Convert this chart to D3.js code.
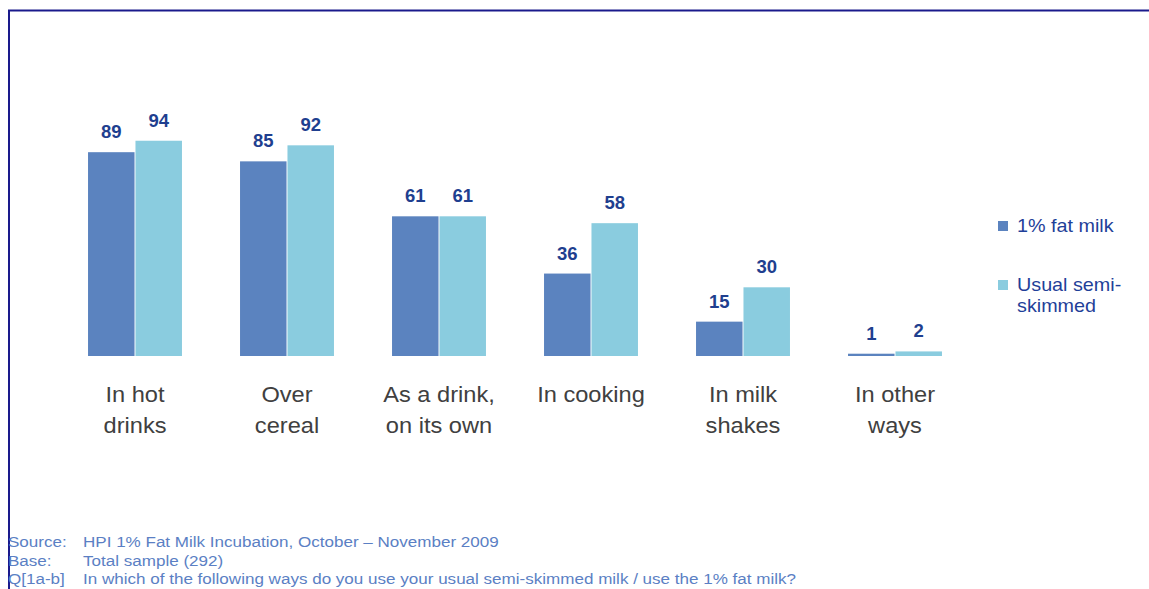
<!DOCTYPE html>
<html><head><meta charset="utf-8">
<script src="https://cdn.jsdelivr.net/npm/d3@7"></script>
<style>body{margin:0;background:#fff;} svg{display:block;font-family:"Liberation Sans",Arial,sans-serif;}</style>
</head><body>
<svg id="c" width="1149" height="589"></svg>
<script>
const categories = [["In hot","drinks"],["Over","cereal"],["As a drink,","on its own"],["In cooking"],["In milk","shakes"],["In other","ways"]];
const seriesNames = ["1% fat milk", "Usual semi-skimmed"];
const legendLines = [["1% fat milk"],["Usual semi-","skimmed"]];
const fatMilk = [89, 85, 61, 36, 15, 1];
const semiSkimmed = [94, 92, 61, 58, 30, 2];
const colors = ["#5b83bf", "#8accdf"];
const footLabels = ["Source:", "Base:", "Q[1a-b]"];
const footTexts = ["HPI 1% Fat Milk Incubation, October \u2013 November 2009", "Total sample (292)", "In which of the following ways do you use your usual semi-skimmed milk / use the 1% fat milk?"];

const svg = d3.select("#c");
svg.append("line").attr("x1",8).attr("x2",1149).attr("y1",10.5).attr("y2",10.5).attr("stroke","#1a1a8c").attr("stroke-width",2);
svg.append("line").attr("x1",9).attr("x2",9).attr("y1",10).attr("y2",589).attr("stroke","#1a1a8c").attr("stroke-width",2);

function stretchText(parent, x, yy, lines, size, sx, color, anchor, lh, weight){
  const gg = parent.append("g").attr("transform",`translate(${x},${yy}) scale(${sx},1)`);
  const t = gg.append("text").attr("x",0).attr("y",0).attr("font-size",size).attr("fill",color)
    .attr("text-anchor",anchor).attr("font-weight",weight||"normal");
  lines.forEach((s,j)=>t.append("tspan").attr("x",0).attr("dy",j===0?0:lh).text(s));
  return gg;
}

const x0 = d3.scaleBand().domain(d3.range(categories.length)).range([59, 971]).paddingInner(0.382).paddingOuter(0.191);
const x1 = d3.scaleBand().domain([0,1]).range([0, x0.bandwidth()]).paddingInner(0.02);
const y = d3.scaleLinear().domain([0, 100]).range([356, 127]);

const data = categories.map((c,i)=>({i, vals:[fatMilk[i], semiSkimmed[i]]}));
const g = svg.append("g").selectAll("g").data(data).join("g").attr("transform", d=>`translate(${x0(d.i)},0)`);
g.selectAll("rect").data(d=>d.vals.map((v,k)=>({v,k}))).join("rect")
  .attr("x", d=>x1(d.k)).attr("width", x1.bandwidth())
  .attr("y", d=>y(d.v)).attr("height", d=>Math.max(1.5, y(0)-y(d.v)))
  .attr("fill", d=>colors[d.k]);
g.selectAll("text.v").data(d=>d.vals.map((v,k)=>({v,k}))).join("text").attr("class","v")
  .attr("x", d=>x1(d.k)+x1.bandwidth()/2).attr("y", d=>y(d.v)-14)
  .attr("text-anchor","middle").attr("font-size",18.5).attr("font-weight","bold").attr("fill","#1f3f8f")
  .text(d=>d.v);

// category labels
const cg = svg.append("g");
categories.forEach((lines,i)=>{
  stretchText(cg, x0(i)+x0.bandwidth()/2, 402, lines, 22.5, 1.05, "#404040", "middle", 31);
});

// legend
const lg = svg.append("g");
const legY = [232, 291];
legendLines.forEach((lines,k)=>{
  lg.append("rect").attr("x",998).attr("y",legY[k]-11).attr("width",10).attr("height",10).attr("fill",colors[k]);
  stretchText(lg, 1017, legY[k], lines, 19, 1.04, "#1f3f99", "start", 21);
});

// footnotes
const fy = [547, 566, 584];
const fg = svg.append("g");
footLabels.forEach((s,i)=>{
  stretchText(fg, 8, fy[i], [s], 15.5, 1.1, "#5b7fc4", "start", 0);
  stretchText(fg, 83, fy[i], [footTexts[i]], 15.5, 1.1, "#5b7fc4", "start", 0);
});
</script>
</body></html>
